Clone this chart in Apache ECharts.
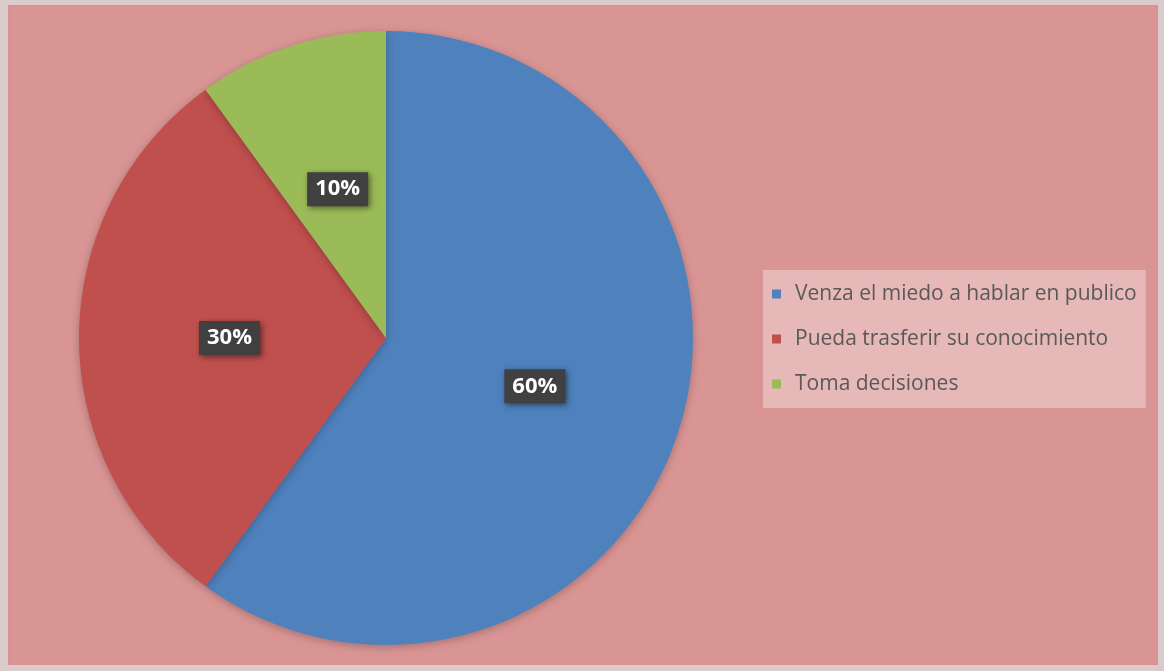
<!DOCTYPE html>
<html>
<head>
<meta charset="utf-8">
<script src="https://cdn.jsdelivr.net/npm/echarts@6/dist/echarts.min.js"></script>
<style>
html,body{margin:0;padding:0;background:#d8cccc;}
#wrap{position:absolute;left:0;top:0;width:1164px;height:671px;background:#d8cccc;}
#chart{position:absolute;left:8px;top:5px;width:1150px;height:660px;background:#D99594;box-shadow:inset 0 0 0 2px #de8f96;}
</style>
</head>
<body>
<div id="wrap"><div id="chart"></div></div>
<script>
const categories = ["Venza el miedo a hablar en publico", "Pueda trasferir su conocimiento", "Toma decisiones"];
const values = [60, 30, 10];
const colors = ["#4F81BD", "#C0504D", "#9BBB59"];

const chart = echarts.init(document.getElementById('chart'));
chart.setOption({
  backgroundColor: 'transparent',
  animation: false,
  legend: {
    orient: 'vertical',
    left: 755,
    top: 265,
    data: categories,
    backgroundColor: '#E6B8B7',
    padding: [13, 9, 13, 9],
    itemWidth: 9,
    itemHeight: 9,
    itemGap: 23,
    icon: 'rect',
    textStyle: { fontFamily: 'Open Sans', fontSize: 21, color: '#595959', padding: [0, 0, 0, 9], lineHeight: 22 }
  },
  series: [{
    type: 'pie',
    center: [378, 333],
    radius: [0, 307],
    startAngle: 90,
    clockwise: true,
    data: categories.map((c, i) => ({ name: c, value: values[i], itemStyle: { color: colors[i] } })),
    itemStyle: { shadowBlur: 8, shadowColor: 'rgba(0,0,0,0.25)', shadowOffsetY: 2 },
    label: {
      position: 'inside',
      formatter: p => p.value + '%',
      color: '#ffffff',
      fontFamily: 'Open Sans',
      fontWeight: 'bold',
      fontSize: 22,
      backgroundColor: '#404040',
      padding: [7, 8, 5, 8],
      shadowBlur: 6,
      shadowColor: 'rgba(0,0,0,0.5)',
      shadowOffsetX: 2,
      shadowOffsetY: 2
    },
    labelLine: { show: false },
    emphasis: { disabled: true }
  }]
});
</script>
</body>
</html>
